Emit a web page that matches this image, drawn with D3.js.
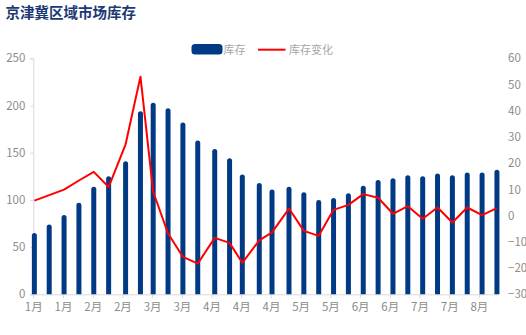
<!DOCTYPE html>
<html><head><meta charset="utf-8">
<script src="https://cdn.jsdelivr.net/npm/d3@7"></script>
<style>
html,body{margin:0;padding:0;background:#fff;}
svg{display:block;}
text{font-family:"Noto Sans CJK SC","Noto Sans",sans-serif;}
</style>
</head><body>
<svg id="c" width="526" height="335"></svg>
<script>
const title = "京津冀区域市场库存";
const seriesNames = ["库存", "库存变化"];
const dates = ["2021-01-08","2021-01-15","2021-01-22","2021-01-29","2021-02-05","2021-02-12","2021-02-20","2021-02-27","2021-03-05","2021-03-12","2021-03-19","2021-03-26","2021-04-03","2021-04-10","2021-04-16","2021-04-24","2021-04-30","2021-05-08","2021-05-15","2021-05-22","2021-05-29","2021-06-05","2021-06-12","2021-06-19","2021-06-26","2021-07-03","2021-07-10","2021-07-17","2021-07-24","2021-07-31","2021-08-07","2021-08-14"];
const inventory = [65,74,84,97,114,125,141,194,203,197,182,163,154,144,127,118,111,114,108,100,102,107,115,121,123,126,125,128,126,129,129,132];
const change = [5.7,7.8,9.9,13.4,16.7,10.9,27.2,53,9.1,-6.8,-15.7,-18.3,-8.5,-10.4,-18,-9.4,-6.4,2.7,-5.8,-7.7,2.2,4.1,8.2,6.8,0.7,3.6,-1.2,3.1,-2.6,3.1,0.2,2.9];
const leftTicks = [0,50,100,150,200,250];
const rightTicks = [-30,-20,-10,0,10,20,30,40,50,60];
const axisStart = "2021-01-08", axisEnd = "2021-08-15";

const parse = d3.utcParse("%Y-%m-%d");
const data = dates.map((d,i)=>({date:parse(d), inv:inventory[i], chg:change[i]}));

const svg = d3.select("#c");
const L = 33.3, R = 498, T = 58.3, B = 294.3;
const x = d3.scaleUtc().domain([parse(axisStart), parse(axisEnd)]).range([L, R]);
const yL = d3.scaleLinear().domain([0,250]).range([B, T]);
const yR = d3.scaleLinear().domain([-30,60]).range([B, T]);
const half = (x(d3.utcDay.offset(parse(axisStart),1)) - L)/2;
const cx = d => x(d.date) + half;

// title
svg.append("text").attr("x",5.5).attr("y",17.5).attr("font-size","14.5px").attr("font-weight","bold")
  .attr("fill","#1b3a73").text(title);

// legend
svg.append("rect").attr("x",191.5).attr("y",44).attr("width",31).attr("height",10.5).attr("rx",3.5).attr("fill","#003a84");
svg.append("text").attr("x",223.5).attr("y",53.5).attr("font-size","11px").attr("fill","#a6a6a6").text(seriesNames[0]);
svg.append("line").attr("x1",258).attr("x2",285.5).attr("y1",49.7).attr("y2",49.7).attr("stroke","#ff0000").attr("stroke-width",2);
svg.append("text").attr("x",289).attr("y",53.5).attr("font-size","11px").attr("fill","#a6a6a6").text(seriesNames[1]);

// left axis
const gl = svg.append("g").attr("transform",`translate(${L},0)`)
  .call(d3.axisLeft(yL).tickValues(leftTicks).tickSize(3).tickPadding(5));
gl.select(".domain").attr("stroke","#d9d9d9");
gl.selectAll(".tick line").attr("stroke","#d9d9d9");
gl.selectAll(".tick text").attr("fill","#8c8c8c").attr("font-size","11.5px").style("font-family",'"Noto Sans CJK SC",sans-serif');

// right axis
const gr = svg.append("g").attr("transform",`translate(${R+10},0)`)
  .call(d3.axisRight(yR).tickValues(rightTicks).tickSize(0).tickPadding(0));
gr.select(".domain").remove();
gr.selectAll(".tick text").attr("fill","#8c8c8c").attr("font-size","11.5px").attr("text-anchor","start").style("font-family",'"Noto Sans CJK SC",sans-serif');

// bottom axis
const xTicks = d3.utcDay.range(parse(axisStart), parse(axisEnd), 14);
const gb = svg.append("g").attr("transform",`translate(0,${B})`)
  .call(d3.axisBottom(x).tickValues(xTicks).tickFormat(d3.utcFormat("%-m月")).tickSize(4).tickSizeOuter(0).tickPadding(5));
gb.select(".domain").attr("stroke","#d9d9d9");
gb.selectAll(".tick line").attr("stroke","#d9d9d9");
gb.selectAll(".tick text").attr("fill","#8c8c8c").attr("font-size","11.5px").style("font-family",'"Noto Sans CJK SC",sans-serif');

// bars with rounded tops
const bw = 5, r = 2.5;
svg.append("g").selectAll("path").data(data).join("path")
  .attr("fill","#003a84")
  .attr("d", d => {
    const x0 = cx(d) - bw/2, x1 = cx(d) + bw/2, yt = yL(d.inv), yb = yL(0);
    return `M${x0},${yb}L${x0},${yt+r}A${r},${r} 0 0 1 ${x1},${yt+r}L${x1},${yb}Z`;
  });

// line
const line = d3.line().x(cx).y(d => yR(d.chg));
svg.append("path").datum(data).attr("d", line).attr("fill","none")
  .attr("stroke","#ff0000").attr("stroke-width",2).attr("stroke-linejoin","round");
</script>
</body></html>
